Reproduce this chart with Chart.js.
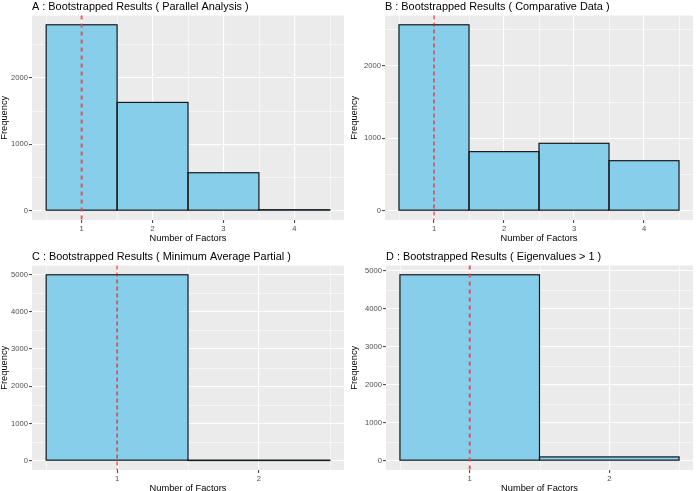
<!DOCTYPE html>
<html>
<head>
<meta charset="utf-8">
<script src="https://cdn.jsdelivr.net/npm/chart.js@4/dist/chart.umd.min.js"></script>
<style>
  html, body { margin: 0; padding: 0; background: #ffffff; width: 700px; height: 491px; overflow: hidden; }
  canvas { position: absolute; }
</style>
</head>
<body>
<canvas id="cA" width="350" height="245" style="left:0px;top:-2px"></canvas>
<canvas id="cB" width="350" height="245" style="left:350px;top:-2px"></canvas>
<canvas id="cC" width="350" height="245" style="left:0px;top:248px"></canvas>
<canvas id="cD" width="350" height="245" style="left:350px;top:248px"></canvas>
<script>
// ---- data ----
const titleA = "A : Bootstrapped Results ( Parallel Analysis )";
const titleB = "B : Bootstrapped Results ( Comparative Data )";
const titleC = "C : Bootstrapped Results ( Minimum Average Partial )";
const titleD = "D : Bootstrapped Results ( Eigenvalues > 1 )";
const factorsA = [1, 2, 3, 4];
const countsA = [2790, 1625, 570, 15];
const factorsB = [1, 2, 3, 4];
const countsB = [2565, 815, 930, 690];
const factorsC = [1, 2];
const countsC = [4995, 5];
const factorsD = [1, 2];
const countsD = [4900, 100];
const yTicksA = [0, 1000, 2000];
const yTicksB = [0, 1000, 2000];
const yTicksC = [0, 1000, 2000, 3000, 4000, 5000];
const yTicksD = [0, 1000, 2000, 3000, 4000, 5000];
const chosenFactors = 1;
const xTitle = "Number of Factors";
const yTitle = "Frequency";

const FONT = "'Liberation Sans', Arial, Helvetica, sans-serif";

const panelPlugin = {
  id: 'panelPlugin',
  beforeDraw(chart) {
    const a = chart.chartArea, ctx = chart.ctx;
    ctx.save();
    ctx.fillStyle = '#EBEBEB';
    ctx.fillRect(a.left, a.top, a.right - a.left, a.bottom - a.top);
    ctx.restore();
  },
  beforeDatasetsDraw(chart) {
    const a = chart.chartArea, ctx = chart.ctx;
    const xs = chart.scales.x, ys = chart.scales.y;
    const o = chart.options.plugins.panelPlugin;
    ctx.save();
    ctx.strokeStyle = '#FFFFFF';
    ctx.lineWidth = 0.55;
    const fx = o.factors;
    const xMinor = fx.map(f => f - 0.5).concat([fx[fx.length - 1] + 0.5]);
    xMinor.forEach(v => {
      if (v < xs.min || v > xs.max) return;
      const p = Math.round(xs.getPixelForValue(v)) + 0.5;
      ctx.beginPath(); ctx.moveTo(p, a.top); ctx.lineTo(p, a.bottom); ctx.stroke();
    });
    const yt = o.yTicks;
    const step = yt[1] - yt[0];
    const yMinor = [yt[0] - step / 2].concat(yt.map(t => t + step / 2));
    yMinor.forEach(v => {
      if (v < ys.min || v > ys.max) return;
      const p = Math.round(ys.getPixelForValue(v)) + 0.5;
      ctx.beginPath(); ctx.moveTo(a.left, p); ctx.lineTo(a.right, p); ctx.stroke();
    });
    ctx.restore();
  },
  afterDatasetsDraw(chart) {
    const a = chart.chartArea, ctx = chart.ctx;
    const o = chart.options.plugins.panelPlugin;
    // bar outlines (full width even for very short bars)
    const meta = chart.getDatasetMeta(0);
    ctx.save();
    ctx.strokeStyle = '#1a1a1a';
    ctx.lineWidth = 1.2;
    meta.data.forEach(bar => {
      const p = bar.getProps(['x', 'y', 'base', 'width'], true);
      const l = p.x - p.width / 2, r = p.x + p.width / 2;
      const t = Math.min(p.y, p.base), b = Math.max(p.y, p.base);
      ctx.strokeRect(l, t, r - l, b - t);
    });
    ctx.restore();
    // dashed reference line
    const px = chart.scales.x.getPixelForValue(o.vline);
    ctx.save();
    ctx.strokeStyle = o.vColor;
    ctx.lineWidth = o.vWidth;
    ctx.setLineDash(o.vDash);
    ctx.beginPath(); ctx.moveTo(px, a.top); ctx.lineTo(px, a.bottom); ctx.stroke();
    ctx.restore();
  }
};

function makeChart(id, title, factors, counts, yTicks, yWidth, rightPad, vStyle) {
  const maxC = Math.max(...counts);
  const nF = factors.length;
  const xMin = factors[0] - 0.5 - 0.05 * nF;
  const xMax = factors[nF - 1] + 0.5 + 0.05 * nF;
  new Chart(document.getElementById(id), {
    type: 'bar',
    data: {
      datasets: [{
        data: factors.map((f, i) => ({ x: f, y: counts[i] })),
        backgroundColor: '#87CEEB',
        borderWidth: 0,
        barPercentage: 1,
        categoryPercentage: 1
      }]
    },
    options: {
      responsive: false,
      animation: false,
      devicePixelRatio: 1,
      layout: { padding: { left: 0, right: rightPad, top: 0, bottom: 0 } },
      plugins: {
        legend: { display: false },
        tooltip: { enabled: false },
        title: {
          display: true,
          text: title,
          align: 'start',
          fullSize: false,
          color: '#000000',
          font: { family: FONT, size: 10.9, weight: 'normal', lineHeight: 1.2 },
          padding: { top: 2, bottom: 2.4 }
        },
        panelPlugin: Object.assign({ factors: factors, yTicks: yTicks, vline: chosenFactors }, vStyle)
      },
      scales: {
        x: {
          type: 'linear',
          min: xMin,
          max: xMax,
          offset: false,
          afterBuildTicks: (s) => { s.ticks = factors.map(v => ({ value: v })); },
          afterFit: (s) => { s.height = 23; },
          border: { display: false },
          grid: { offset: false, color: '#FFFFFF', lineWidth: 1.1, tickColor: '#4D4D4D', tickLength: 3, drawTicks: true },
          ticks: {
            autoSkip: false, maxRotation: 0, padding: 1,
            color: '#4D4D4D', font: { family: FONT, size: 7.6 },
            callback: (v) => String(v)
          },
          title: {
            display: true, text: xTitle, color: '#000000',
            font: { family: FONT, size: 9.3, lineHeight: 1 }, padding: 0
          }
        },
        y: {
          type: 'linear',
          min: -0.05 * maxC,
          max: 1.05 * maxC,
          afterBuildTicks: (s) => { s.ticks = yTicks.map(v => ({ value: v })); },
          afterFit: (s) => { s.width = yWidth; },
          border: { display: false },
          grid: { color: '#FFFFFF', lineWidth: 1.1, tickColor: '#4D4D4D', tickLength: 3, drawTicks: true },
          ticks: {
            autoSkip: false, padding: 1,
            color: '#4D4D4D', font: { family: FONT, size: 7.6 },
            callback: (v) => String(v)
          },
          title: {
            display: true, text: yTitle, color: '#000000',
            font: { family: FONT, size: 9.3, lineHeight: 1 }, padding: { top: 0, bottom: 0 }
          }
        }
      }
    },
    plugins: [panelPlugin]
  });
}

const softRed = { vColor: 'rgba(225,70,70,0.85)', vWidth: 2, vDash: [4, 4] };
const hardRed = { vColor: '#FF0000', vWidth: 1, vDash: [4, 3] };

makeChart('cA', titleA, factorsA, countsA, yTicksA, 32, 6, softRed);
makeChart('cB', titleB, factorsB, countsB, yTicksB, 35, 7, hardRed);
makeChart('cC', titleC, factorsC, countsC, yTicksC, 32, 6, hardRed);
makeChart('cD', titleD, factorsD, countsD, yTicksD, 36, 7, softRed);
</script>
</body>
</html>
